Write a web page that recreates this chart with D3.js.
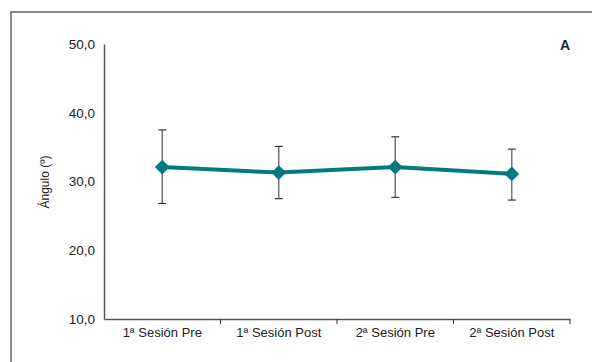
<!DOCTYPE html>
<html><head><meta charset="utf-8">
<script src="https://cdn.jsdelivr.net/npm/d3@7"></script>
<style>body{margin:0;background:#fff}svg{display:block}text{font-family:"Liberation Sans",Arial,sans-serif;fill:#222}</style>
</head><body><svg id="c" width="592" height="362"></svg>
<script>
const categories = ["1ª Sesión Pre","1ª Sesión Post","2ª Sesión Pre","2ª Sesión Post"];
const means = [32.1, 31.3, 32.1, 31.1];
const upper = [37.5, 35.1, 36.5, 34.7];
const lower = [26.8, 27.5, 27.7, 27.3];
const yTicks = [10, 20, 30, 40, 50];

const svg = d3.select("#c");
svg.append("rect").attr("x",11).attr("y",12).attr("width",600).attr("height",400)
  .attr("fill","none").attr("stroke","#666").attr("stroke-width",1.5);

const x = d3.scaleBand().domain(categories).range([104,570]);
const y = d3.scaleLinear().domain([10,50]).range([319,44]);

const gx = svg.append("g").attr("transform","translate(0,319)")
  .call(d3.axisBottom(x).tickSize(0).tickPadding(9));
gx.select(".domain").attr("stroke","#555").attr("stroke-width",1.5);
gx.selectAll("text").attr("font-size",13).attr("font-family",null).attr("transform","scale(0.97,1.08)").attr("transform",null);
const bounds = categories.map(c=>x(c)).concat([x.range()[1]]);
gx.selectAll("line.b").data(bounds.slice(1)).enter().append("line").attr("class","b")
  .attr("x1",d=>d).attr("x2",d=>d).attr("y1",0).attr("y2",5).attr("stroke","#333").attr("stroke-width",1);

const gy = svg.append("g").attr("transform","translate(104,0)")
  .call(d3.axisLeft(y).tickValues(yTicks).tickSize(0).tickPadding(9).tickFormat(d=>d3.format(".1f")(d).replace(".",",")));
gy.select(".domain").attr("stroke","#555").attr("stroke-width",1.5);
gy.selectAll("text").attr("font-size",13.5).attr("font-family",null);

svg.append("text").attr("transform","translate(49,182) rotate(-90)").attr("text-anchor","middle")
  .attr("font-size",12).text("Ángulo (º)");
svg.append("text").attr("x",565).attr("y",50).attr("text-anchor","middle").attr("font-size",14)
  .attr("font-weight","bold").text("A");

const cx = c => x(c) + x.bandwidth()/2;
const eb = svg.append("g");
categories.forEach((c,i)=>{
  eb.append("line").attr("x1",cx(c)).attr("x2",cx(c)).attr("y1",y(upper[i])).attr("y2",y(lower[i])).attr("stroke","#777").attr("stroke-width",1.5);
  [upper[i],lower[i]].forEach(v=>eb.append("line").attr("x1",cx(c)-4).attr("x2",cx(c)+4).attr("y1",y(v)).attr("y2",y(v)).attr("stroke","#333").attr("stroke-width",1.2));
});
const line = d3.line().x((d,i)=>cx(categories[i])).y(d=>y(d));
svg.append("path").datum(means).attr("d",line).attr("fill","none").attr("stroke","#007b80").attr("stroke-width",4);
svg.selectAll("path.pt").data(means).enter().append("path").attr("class","pt")
  .attr("d",d3.symbol(d3.symbolDiamond2 || d3.symbolDiamond,140)())
  .attr("transform",(d,i)=>`translate(${cx(categories[i])},${y(d)})`)
  .attr("fill","#007b80");
</script></body></html>
